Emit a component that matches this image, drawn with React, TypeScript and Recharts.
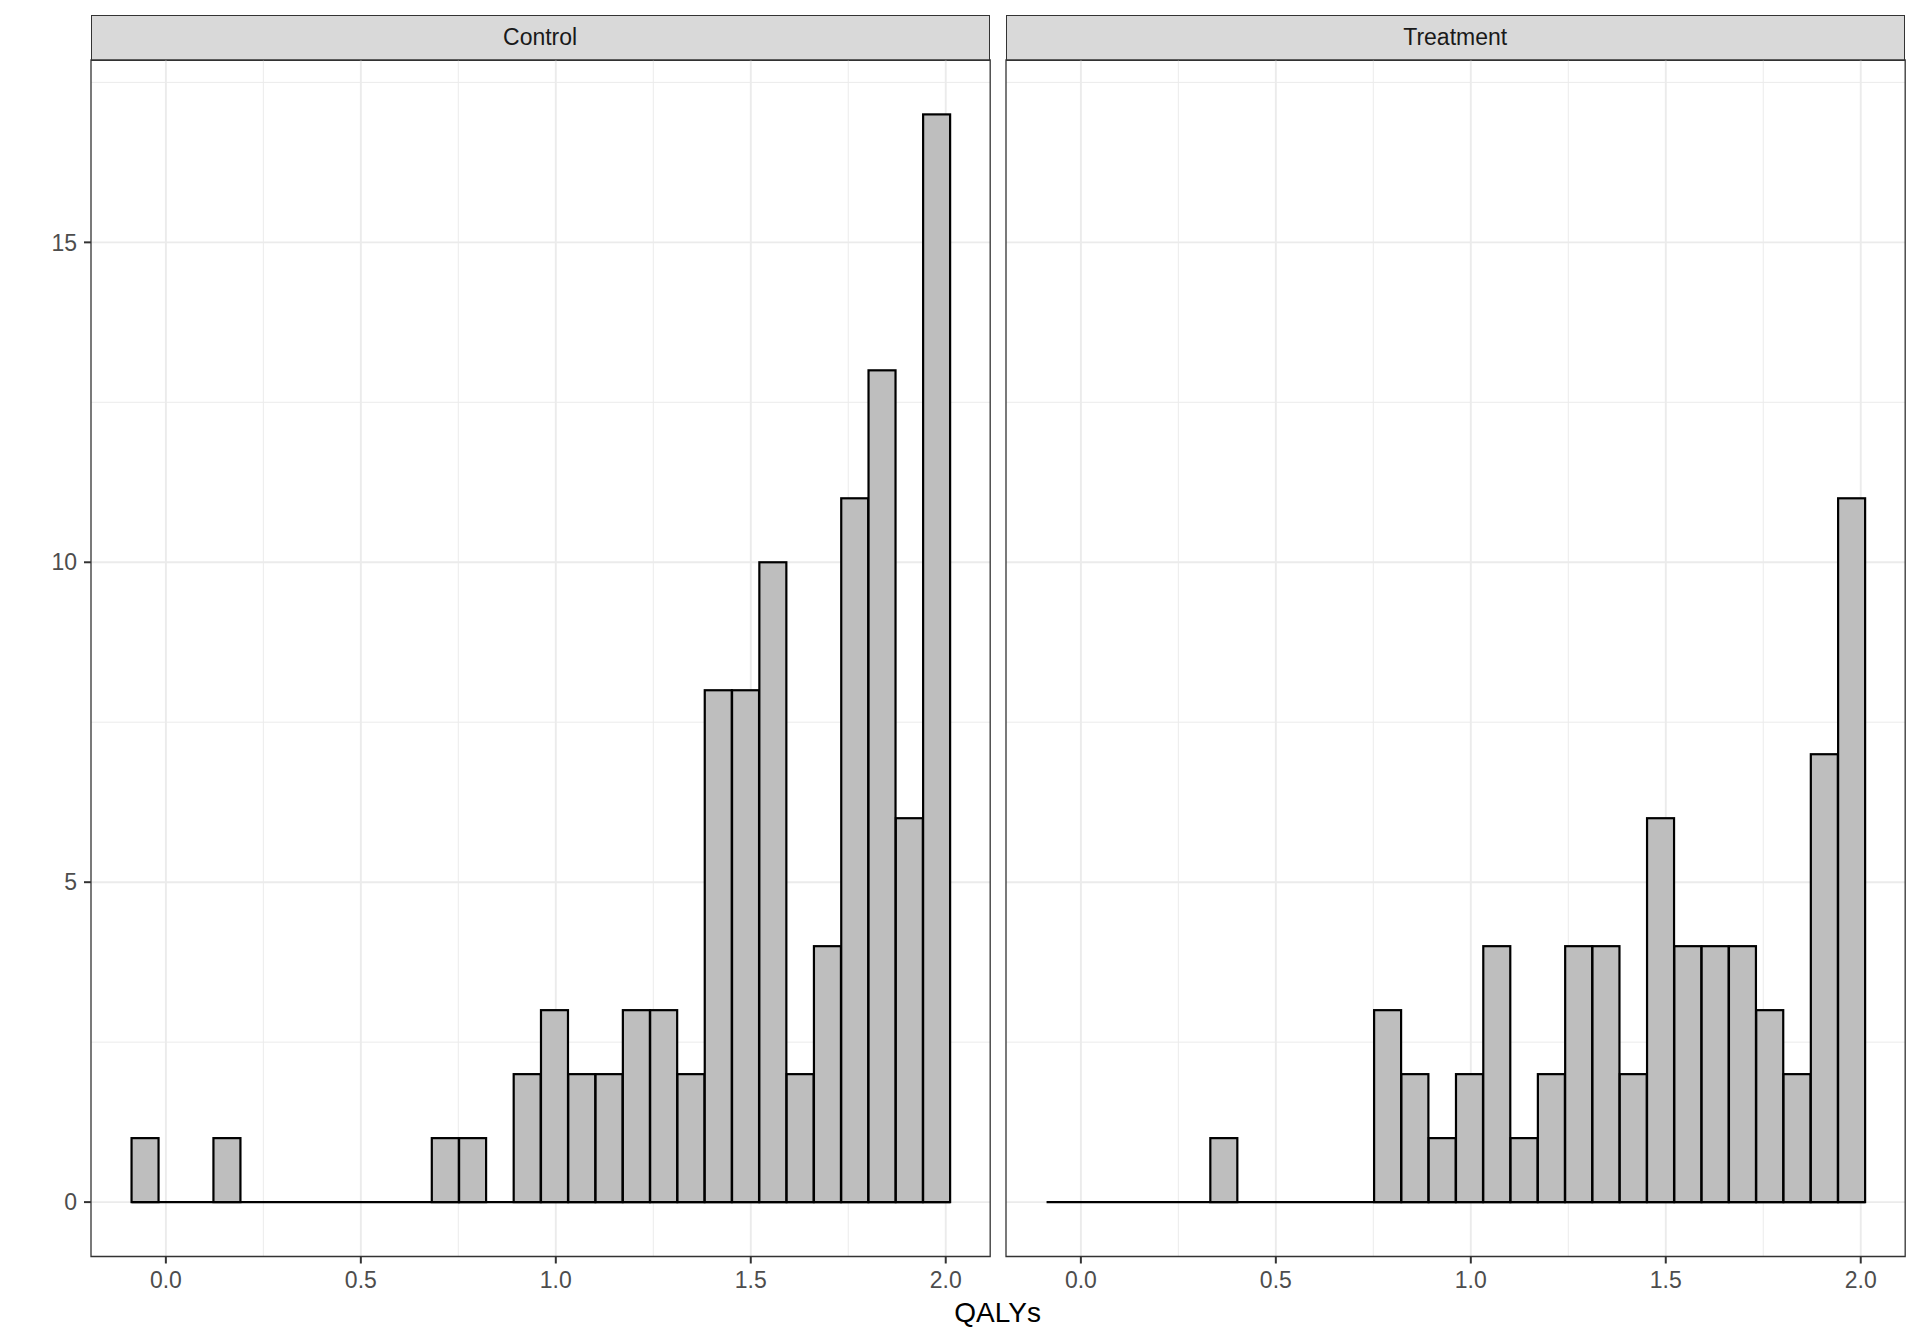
import React from 'react';
import { ComposedChart, Bar, XAxis, YAxis, CartesianGrid, ReferenceArea, ReferenceLine } from 'recharts';

// histogram: 30 bins, same breaks in both facets
const BIN_START = -0.088;
const BIN_WIDTH = 0.07;
const CONTROL_COUNTS = [1, 0, 0, 1, 0, 0, 0, 0, 0, 0, 0, 1, 1, 0, 2, 3, 2, 2, 3, 3, 2, 8, 8, 10, 2, 4, 11, 13, 6, 17];
const TREATMENT_COUNTS = [0, 0, 0, 0, 0, 0, 1, 0, 0, 0, 0, 0, 3, 2, 1, 2, 4, 1, 2, 4, 4, 2, 6, 4, 4, 4, 3, 2, 7, 11];
const PANEL_NAMES = ['Control', 'Treatment'];

const X_TICKS = [0, 0.5, 1, 1.5, 2];
const X_MINOR = [0.25, 0.75, 1.25, 1.75];
const Y_TICKS = [0, 5, 10, 15];
const Y_MINOR = [2.5, 7.5, 12.5, 17.5];
const X_DOMAIN: [number, number] = [-0.192, 2.114];
const Y_DOMAIN: [number, number] = [-0.85, 17.85];

const W = 1920;
const H = 1344;
const PLOT_W = 899.2;
const PLOT_TOP = 60;
const PLOT_BOTTOM = 1256.5;
const STRIP_TOP = 15;
const X_AXIS_H = 50;
const FONT = '"Liberation Sans", Arial, Helvetica, sans-serif';
const TICK_FONT = 23;

const buildRows = (counts: number[]) =>
  counts.map((c, i) => ({ bin: i, mid: BIN_START + (i + 0.5) * BIN_WIDTH, count: c }));

const HistBar = (p: any) => (
  <rect
    x={p.x}
    y={p.y}
    width={p.width}
    height={Math.max(p.height || 0, 0)}
    fill="#BEBEBE"
    stroke="#000000"
    strokeWidth={2.2}
  />
);

const Panel = ({ name, counts, plotLeft, showY }: { name: string; counts: number[]; plotLeft: number; showY: boolean }) => {
  const yW = showY ? 80 : 0;
  const mL = 10;
  const mR = 10;
  const chartLeft = plotLeft - yW - mL;
  const span = X_DOMAIN[1] - X_DOMAIN[0];
  const binEnd = BIN_START + counts.length * BIN_WIDTH;
  const padL = (PLOT_W * (BIN_START - X_DOMAIN[0])) / span;
  const padR = (PLOT_W * (X_DOMAIN[1] - binEnd)) / span;
  const data = buildRows(counts);

  return (
    <>
      <div
        style={{
          position: 'absolute',
          left: plotLeft,
          top: STRIP_TOP,
          width: PLOT_W,
          height: PLOT_TOP - STRIP_TOP + 0.7,
          boxSizing: 'border-box',
          background: '#D9D9D9',
          border: '1.3px solid #333333',
          color: '#1A1A1A',
          fontSize: TICK_FONT,
          lineHeight: `${PLOT_TOP - STRIP_TOP - 2}px`,
          textAlign: 'center',
        }}
      >
        {name}
      </div>
      <div style={{ position: 'absolute', left: chartLeft, top: 0 }}>
        <ComposedChart
          width={mL + yW + PLOT_W + mR}
          height={H}
          data={data}
          barCategoryGap={0}
          barGap={0}
          margin={{ top: PLOT_TOP, right: mR, left: mL, bottom: H - PLOT_BOTTOM - X_AXIS_H }}
        >
          <XAxis
            xAxisId="num"
            dataKey="mid"
            type="number"
            domain={X_DOMAIN}
            allowDataOverflow
            ticks={X_TICKS}
            tickFormatter={(v: number) => v.toFixed(1)}
            height={X_AXIS_H}
            axisLine={false}
            tickLine={{ stroke: '#333333', strokeWidth: 2 }}
            tickSize={7}
            tickMargin={8.5}
            tick={{ fill: '#4D4D4D', fontSize: TICK_FONT }}
          />
          <XAxis xAxisId="bins" dataKey="bin" type="category" hide height={0} padding={{ left: padL, right: padR }} />
          <YAxis
            type="number"
            domain={Y_DOMAIN}
            allowDataOverflow
            ticks={Y_TICKS}
            hide={!showY}
            width={yW || 60}
            axisLine={false}
            tickLine={{ stroke: '#333333', strokeWidth: 2 }}
            tickSize={7}
            tickMargin={7}
            tick={{ fill: '#4D4D4D', fontSize: TICK_FONT }}
          />
          <CartesianGrid
            xAxisId="num"
            verticalValues={X_MINOR}
            horizontalValues={Y_MINOR}
            stroke="#EBEBEB"
            strokeWidth={1}
          />
          <CartesianGrid
            xAxisId="num"
            verticalValues={X_TICKS}
            horizontalValues={Y_TICKS}
            stroke="#EBEBEB"
            strokeWidth={1.9}
          />
          <Bar xAxisId="bins" dataKey="count" shape={HistBar} isAnimationActive={false} />
          {/* zero-count bins collapse to their outline along the baseline */}
          <ReferenceLine
            xAxisId="num"
            segment={[{ x: BIN_START, y: 0 }, { x: binEnd, y: 0 }]}
            stroke="#000000"
            strokeWidth={2.2}
            ifOverflow="visible"
          />
          <ReferenceArea
            xAxisId="num"
            x1={X_DOMAIN[0]}
            x2={X_DOMAIN[1]}
            y1={Y_DOMAIN[0]}
            y2={Y_DOMAIN[1]}
            fill="none"
            stroke="#333333"
            strokeWidth={1.3}
            ifOverflow="visible"
          />
        </ComposedChart>
      </div>
    </>
  );
};

export default function App() {
  return (
    <div
      style={{
        position: 'absolute',
        left: 0,
        top: 0,
        width: W,
        height: H,
        background: '#FFFFFF',
        fontFamily: FONT,
      }}
    >
      <Panel name={PANEL_NAMES[0]} counts={CONTROL_COUNTS} plotLeft={90.5} showY />
      <Panel name={PANEL_NAMES[1]} counts={TREATMENT_COUNTS} plotLeft={1005.6} showY={false} />
      <div
        style={{
          position: 'absolute',
          left: 897.6,
          width: 200,
          top: 1295.7,
          lineHeight: '34px',
          fontSize: 28,
          color: '#000000',
          textAlign: 'center',
        }}
      >
        QALYs
      </div>
    </div>
  );
}
